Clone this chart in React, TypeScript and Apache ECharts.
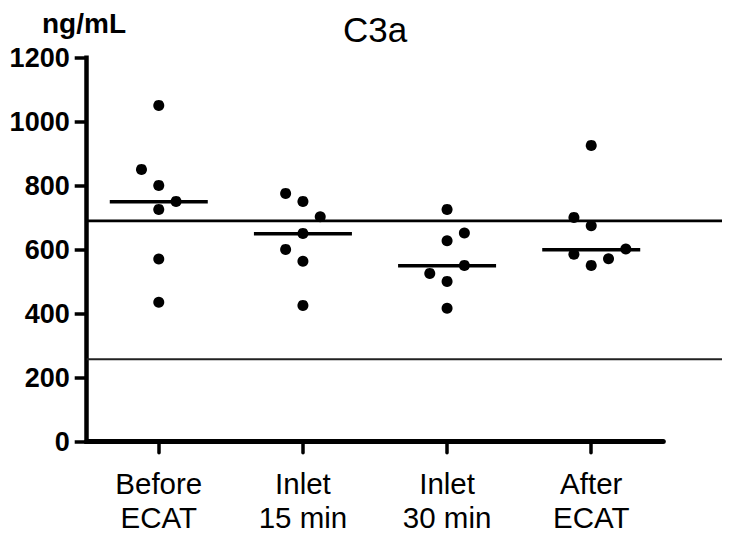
import React, { useEffect, useRef } from "react";
import * as echarts from "echarts";

// Categories and tick settings
const categories = ["Before\nECAT", "Inlet\n15 min", "Inlet\n30 min", "After\nECAT"];
const yMin = 0;
const yMax = 1200;
const yInterval = 200;

// Individual values (ng/mL) per group
const beforeEcat = [1051, 851, 801, 751, 726, 571, 436];
const inlet15 = [776, 751, 703, 651, 601, 564, 426];
const inlet30 = [726, 652, 628, 551, 526, 501, 417];
const afterEcat = [926, 701, 675, 602, 586, 572, 551];

// Horizontal jitter slot of each point (columns of the dot plot)
const beforeSlots = [0, -1, 0, 1, 0, 0, 0];
const inlet15Slots = [-1, 0, 1, 0, -1, 0, 0];
const inlet30Slots = [0, 1, 0, 1, -1, 0, 0];
const afterSlots = [0, -1, 0, 2, -1, 1, 0];

// Median of each group
const medians = [750, 650, 550, 600];

// Reference range lines
const upperReference = 690;
const lowerReference = 258;

const title = "C3a";
const unit = "ng/mL";

const FONT = "'Liberation Sans', Arial, Helvetica, sans-serif";
const SLOT_PX = 17.3;

export default function App() {
  const ref = useRef<HTMLDivElement>(null);

  useEffect(() => {
    if (!ref.current) return;
    const chart = echarts.init(ref.current, null, { renderer: "svg" });

    const groups = [beforeEcat, inlet15, inlet30, afterEcat];
    const slots = [beforeSlots, inlet15Slots, inlet30Slots, afterSlots];
    const points: any[] = [];
    groups.forEach((vals, gi) => {
      vals.forEach((v, i) => {
        points.push({ value: [gi, v], symbolOffset: [slots[gi][i] * SLOT_PX, 0] });
      });
    });

    const gridPos = { left: 86.7, top: 57.7, bottom: 95.3 };

    const option: any = {
      animation: false,
      backgroundColor: "#ffffff",
      textStyle: { fontFamily: FONT },
      grid: [
        { ...gridPos, right: 78.7, containLabel: false },
        { ...gridPos, right: 20, containLabel: false },
      ],
      xAxis: [
        {
          type: "category",
          gridIndex: 0,
          data: categories,
          boundaryGap: true,
          axisLine: { show: true, lineStyle: { color: "#000", width: 5, cap: "round", opacity: 1 } },
          axisTick: {
            show: true,
            alignWithLabel: true,
            length: 11,
            lineStyle: { color: "#000", width: 3.5, cap: "round", opacity: 1 },
          },
          axisLabel: {
            color: "#000",
            fontFamily: FONT,
            fontSize: 29.5,
            lineHeight: 34,
            margin: 25,
          },
          splitLine: { show: false },
        },
        { type: "value", gridIndex: 1, min: 0, max: 1, show: false },
      ],
      yAxis: [
        {
          type: "value",
          gridIndex: 0,
          min: yMin,
          max: yMax,
          interval: yInterval,
          axisLine: { show: true, lineStyle: { color: "#000", width: 4.5, cap: "square", opacity: 1 } },
          axisTick: { show: true, length: 12, lineStyle: { color: "#000", width: 3.5, opacity: 1 } },
          axisLabel: {
            color: "#000",
            fontFamily: FONT,
            fontWeight: "bold",
            fontSize: 27,
            margin: 17,
            formatter: (v: number) => String(v),
          },
          splitLine: { show: false },
        },
        { type: "value", gridIndex: 1, min: yMin, max: yMax, interval: yInterval, show: false },
      ],
      graphic: [
        {
          type: "text",
          x: 375,
          y: 29,
          style: {
            text: title,
            fontFamily: FONT,
            fontSize: 35,
            fill: "#000",
            align: "center",
            verticalAlign: "middle",
          },
        },
        {
          type: "text",
          x: 84,
          y: 23.5,
          style: {
            text: unit,
            fontFamily: FONT,
            fontSize: 28,
            fontWeight: "bold",
            fill: "#000",
            align: "center",
            verticalAlign: "middle",
          },
        },
      ],
      series: [
        {
          type: "line",
          xAxisIndex: 1,
          yAxisIndex: 1,
          data: [[0, upperReference], [1, upperReference]],
          symbol: "none",
          silent: true,
          lineStyle: { color: "#000", width: 2.6, opacity: 1 },
          z: 1,
        },
        {
          type: "line",
          xAxisIndex: 1,
          yAxisIndex: 1,
          data: [[0, lowerReference], [1, lowerReference]],
          symbol: "none",
          silent: true,
          lineStyle: { color: "#222", width: 2, opacity: 1 },
          z: 1,
        },
        {
          type: "scatter",
          xAxisIndex: 0,
          yAxisIndex: 0,
          data: medians.map((m, i) => [i, m]),
          symbol: "rect",
          symbolSize: [98, 3.6],
          itemStyle: { color: "#000", opacity: 1 },
          silent: true,
          z: 3,
        },
        {
          type: "scatter",
          xAxisIndex: 0,
          yAxisIndex: 0,
          data: points,
          symbol: "circle",
          symbolSize: 11,
          itemStyle: { color: "#000", opacity: 1 },
          silent: true,
          z: 4,
        },
      ],
    };

    chart.setOption(option);
    return () => chart.dispose();
  }, []);

  return (
    <div
      ref={ref}
      style={{ position: "fixed", left: 0, top: 0, width: 742, height: 537, background: "#fff" }}
    />
  );
}
